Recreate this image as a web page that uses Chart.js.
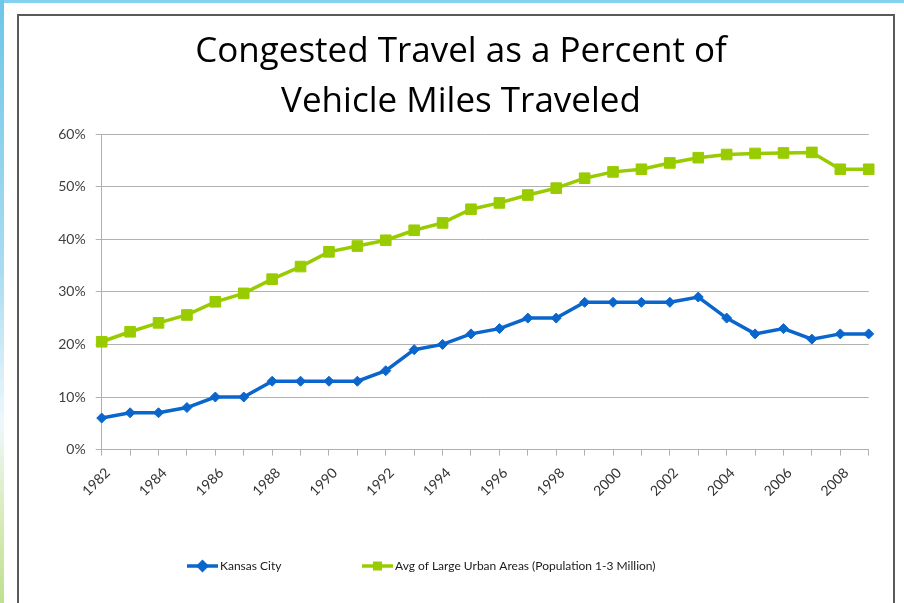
<!DOCTYPE html>
<html>
<head>
<meta charset="utf-8">
<title>Congested Travel as a Percent of Vehicle Miles Traveled</title>
<script src="https://cdn.jsdelivr.net/npm/chart.js@4/dist/chart.umd.min.js"></script>
<style>
    html, body { margin: 0; padding: 0; background: #fff; }
    #slide { position: relative; width: 904px; height: 603px; overflow: hidden; }
    #topStrip { position: absolute; left: 0; top: 0; width: 904px; height: 3px; background: #84d2ee; }
    #leftStrip { position: absolute; left: 0; top: 0; width: 4px; height: 603px;
        background: linear-gradient(to bottom, #6ec6e8 0%, #a9dcf2 45%, #eef8fc 70%, #d8ecbc 85%, #bfe08e 100%); }
    #panel { position: absolute; left: 17px; top: 14px; width: 874px; height: 620px;
        border: 2px solid #5a5a5a; border-bottom: none; background: #fff; }
    #chart { position: absolute; left: 0; top: 0; }
</style>
</head>
<body>
<div id="slide">
    <div id="topStrip"></div>
    <div id="leftStrip"></div>
    <div id="panel"></div>
    <canvas id="chart" width="904" height="603"></canvas>
</div>
<script>
// values (percent)
var years = ["1982", "1983", "1984", "1985", "1986", "1987", "1988", "1989", "1990", "1991",
    "1992", "1993", "1994", "1995", "1996", "1997", "1998", "1999", "2000", "2001",
    "2002", "2003", "2004", "2005", "2006", "2007", "2008", "2009"];
var kansasCity = [6, 7, 7, 8, 10, 10, 13, 13, 13, 13,
    15, 19, 20, 22, 23, 25, 25, 28, 28, 28,
    28, 29, 25, 22, 23, 21, 22, 22];
var largeUrbanAvg = [20.5, 22.4, 24.1, 25.6, 28.1, 29.7, 32.4, 34.8, 37.6, 38.7,
    39.8, 41.7, 43.1, 45.7, 46.9, 48.4, 49.7, 51.6, 52.8, 53.3,
    54.5, 55.5, 56.1, 56.3, 56.4, 56.5, 53.3, 53.3];
var yTicks = [0, 10, 20, 30, 40, 50, 60];
var seriesNames = ["Kansas City", "Avg of Large Urban Areas (Population 1-3 Million)"];

var BLUE = "#0a66cc";
var GREEN = "#99cc00";
var GRID = "#b0b0b0";

// excel-like legend: short line with marker, then the name
var lineLegend = {
    id: "lineLegend",
    afterDraw: function (chart) {
        var ctx = chart.ctx;
        var startX = [187, 362];
        var y = 566;
        ctx.save();
        chart.data.datasets.forEach(function (ds, i) {
            var x = startX[i];
            ctx.strokeStyle = ds.borderColor;
            ctx.lineWidth = 3.5;
            ctx.beginPath();
            ctx.moveTo(x, y);
            ctx.lineTo(x + 31, y);
            ctx.stroke();
            ctx.fillStyle = ds.borderColor;
            Chart.helpers.drawPoint(ctx, {pointStyle: ds.pointStyle, radius: 4, borderWidth: 1, rotation: 0}, x + 15.5, y);
            ctx.fillStyle = "#1a1a1a";
            ctx.font = "12px Lato";
            ctx.textBaseline = "middle";
            ctx.textAlign = "left";
            ctx.fillText(ds.label, x + 33, y);
        });
        ctx.restore();
    }
};

function drawChart() {
    var ctx = document.getElementById("chart").getContext("2d");
    new Chart(ctx, {
        type: "line",
        data: {
            labels: years,
            datasets: [
                {
                    label: seriesNames[0],
                    data: kansasCity,
                    borderColor: BLUE,
                    backgroundColor: BLUE,
                    borderWidth: 3.5,
                    pointStyle: "rectRot",
                    pointRadius: 5,
                    pointBorderWidth: 1,
                    tension: 0
                }, {
                    label: seriesNames[1],
                    data: largeUrbanAvg,
                    borderColor: GREEN,
                    backgroundColor: GREEN,
                    borderWidth: 3.5,
                    pointStyle: "rect",
                    pointRadius: 7.5,
                    pointBorderWidth: 1,
                    tension: 0
                }
            ]
        },
        options: {
            responsive: false,
            animation: false,
            layout: {padding: {left: 18, right: 0, top: 0, bottom: 0}},
            plugins: {
                legend: {display: false},
                tooltip: {enabled: false},
                title: {
                    display: true,
                    text: ["Congested Travel as a Percent of", "Vehicle Miles Traveled"],
                    color: "#000",
                    font: {family: "Open Sans", size: 35, weight: "normal", lineHeight: 50 / 35},
                    padding: {top: 27, bottom: 7}
                }
            },
            scales: {
                x: {
                    offset: false,
                    grid: {drawOnChartArea: false, drawTicks: true, tickLength: 6, color: GRID},
                    border: {color: GRID},
                    ticks: {
                        autoSkip: false,
                        maxRotation: 45,
                        minRotation: 45,
                        padding: 9,
                        labelOffset: 6,
                        color: "#333",
                        font: {family: "Lato", size: 14},
                        callback: function (value, index) {
                            return index % 2 === 0 ? this.getLabelForValue(value) : "";
                        }
                    },
                    afterFit: function (scale) { scale.height = 153.4; }
                },
                y: {
                    min: 0,
                    max: 60,
                    afterBuildTicks: function (scale) {
                        scale.ticks = yTicks.map(function (v) { return {value: v}; });
                    },
                    grid: {color: GRID, tickLength: 6},
                    border: {color: GRID},
                    ticks: {
                        padding: 10,
                        color: "#404040",
                        font: {family: "Lato", size: 14},
                        callback: function (v) { return v + "%"; }
                    },
                    afterFit: function (scale) { scale.width = 83.7; }
                },
                // empty box on the right, keeps the plot edge where the picture has it
                yRight: {
                    position: "right",
                    display: true,
                    grid: {display: false},
                    border: {display: false},
                    ticks: {display: false},
                    afterFit: function (scale) { scale.width = 35.3; }
                }
            }
        },
        plugins: [lineLegend]
    });
}

Promise.all([
    document.fonts.load("35px 'Open Sans'"),
    document.fonts.load("14px Lato")
]).then(drawChart, drawChart);
</script>
</body>
</html>
